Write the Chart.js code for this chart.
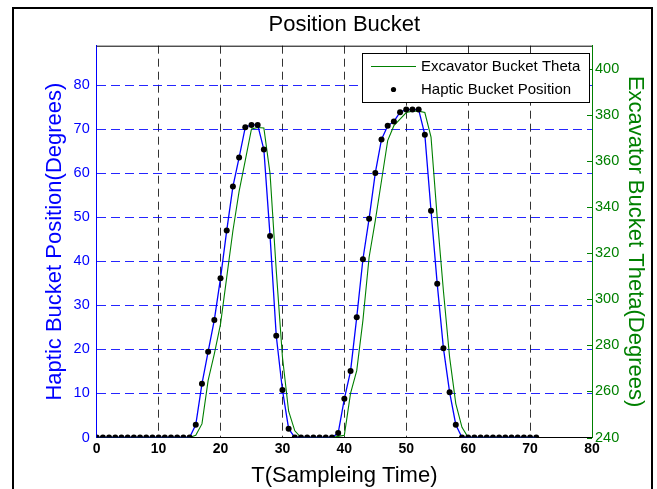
<!DOCTYPE html>
<html>
<head>
<meta charset="utf-8">
<script src="https://cdn.jsdelivr.net/npm/chart.js@4.4.1/dist/chart.umd.min.js"></script>
<style>
  html, body { margin: 0; padding: 0; background: #fff; }
  canvas { display: block; }
</style>
</head>
<body>
<canvas id="bucket-chart" width="657" height="489"></canvas>
<script>
// sampling instants
const sampleTime = [
  0, 1, 2, 3, 4, 5, 6, 7, 8, 9, 10, 11, 12, 13, 14, 15, 16, 17, 18, 19,
  20, 21, 22, 23, 24, 25, 26, 27, 28, 29, 30, 31, 32, 33, 34, 35, 36, 37, 38, 39,
  40, 41, 42, 43, 44, 45, 46, 47, 48, 49, 50, 51, 52, 53, 54, 55, 56, 57, 58, 59,
  60, 61, 62, 63, 64, 65, 66, 67, 68, 69, 70, 71
];

// haptic device bucket position (left axis, degrees)
const hapticPosition = [
  0, 0, 0, 0, 0, 0, 0, 0, 0, 0, 0, 0, 0, 0, 0, 0,
  2.9, 12.2, 19.5, 26.7, 36.2, 47.0, 57.0, 63.6, 70.5, 71.0, 71.0, 65.4, 45.8, 23.1, 10.8, 2.0,
  0, 0, 0, 0, 0, 0, 0,
  1.0, 8.8, 15.1, 27.3, 40.5, 49.7, 60.1, 67.7, 70.8, 71.8, 73.9, 74.5, 74.5, 74.5, 68.8, 51.5, 34.9, 20.3, 10.3, 2.9,
  0, 0, 0, 0, 0, 0, 0, 0, 0, 0, 0, 0, 0
];

// excavator bucket theta (right axis, degrees)
const excavatorTheta = [
  240, 240, 240, 240, 240, 240, 240, 240, 240, 240, 240, 240, 240, 240, 240, 240,
  241, 245.9, 264.8, 276.3, 289.2, 309.5, 329.7, 346.8, 360.2, 373.9, 374.5, 374.3, 354.5, 312.5, 274.9, 251.4,
  242.9, 240, 240, 240, 240, 240, 240,
  240.5, 241, 259.1, 269, 290.8, 318.2, 334.1, 351.4, 368.8, 375.3, 378.1, 381, 381.6, 381.6, 381, 370.3, 335.4, 303.7, 274.9, 254.7,
  244.4, 240, 240, 240, 240, 240, 240, 240, 240, 240, 240, 240, 240
];

const xTicks = [0, 10, 20, 30, 40, 50, 60, 70, 80];
const leftTicks = [0, 10, 20, 30, 40, 50, 60, 70, 80];
const rightTicks = [240, 260, 280, 300, 320, 340, 360, 380, 400];

const BLUE = '#0000ff';
const GREEN = '#008000';
const FONT = '"Liberation Sans", Arial, sans-serif';

const hapticPoints = sampleTime.map((t, i) => ({ x: t, y: hapticPosition[i] }));
const thetaPoints = sampleTime.map((t, i) => ({ x: t, y: excavatorTheta[i] }));

// title, box top edge, inward ticks on the right axis, legend and outer frame
const figureDecor = {
  id: 'figureDecor',
  afterDatasetsDraw(chart) {
    const { ctx, chartArea: a, scales } = chart;
    ctx.save();
    // top edge of the axes box
    ctx.strokeStyle = '#000';
    ctx.lineWidth = 1;
    ctx.beginPath();
    ctx.moveTo(a.left, a.top + 0.5);
    ctx.lineTo(a.right, a.top + 0.5);
    ctx.stroke();

    // inward tick marks on the theta axis
    ctx.strokeStyle = GREEN;
    ctx.beginPath();
    rightTicks.forEach(v => {
      const y = Math.round(scales.yTheta.getPixelForValue(v)) + 0.5;
      ctx.moveTo(a.right - 5, y);
      ctx.lineTo(a.right, y);
    });
    ctx.stroke();

    // legend box
    const lx = 362, ly = 53, lw = 227, lh = 49;
    ctx.fillStyle = '#fff';
    ctx.fillRect(lx, ly, lw, lh);
    ctx.strokeStyle = '#000';
    ctx.lineWidth = 1;
    ctx.strokeRect(lx + 0.5, ly + 0.5, lw, lh);

    ctx.strokeStyle = GREEN;
    ctx.beginPath();
    ctx.moveTo(371, 66.5);
    ctx.lineTo(416, 66.5);
    ctx.stroke();

    ctx.fillStyle = '#000';
    ctx.beginPath();
    ctx.arc(393.5, 89.5, 2.6, 0, Math.PI * 2);
    ctx.fill();

    ctx.font = '15px ' + FONT;
    ctx.textBaseline = 'middle';
    ctx.textAlign = 'left';
    ctx.fillText(chart.data.datasets[1].label, 421, 67);
    ctx.fillText(chart.data.datasets[0].label, 421, 90);
    ctx.restore();
  },
  afterDraw(chart) {
    const { ctx, chartArea: a } = chart;
    ctx.save();
    ctx.fillStyle = '#000';
    ctx.font = '22px ' + FONT;
    ctx.textAlign = 'center';
    ctx.textBaseline = 'middle';
    ctx.fillText('Position Bucket', (a.left + a.right) / 2, 25);

    ctx.strokeStyle = '#000';
    ctx.lineWidth = 2;
    ctx.strokeRect(13, 8, 639, 500);
    ctx.restore();
  }
};

new Chart(document.getElementById('bucket-chart'), {
  type: 'line',
  data: {
    datasets: [
      {
        label: 'Haptic Bucket Position',
        data: hapticPoints,
        yAxisID: 'yHaptic',
        borderColor: BLUE,
        borderWidth: 1.3,
        pointRadius: 3,
        pointBorderWidth: 0,
        pointBackgroundColor: '#000',
        tension: 0
      },
      {
        label: 'Excavator Bucket Theta',
        data: thetaPoints,
        yAxisID: 'yTheta',
        borderColor: GREEN,
        borderWidth: 1.1,
        pointRadius: 0,
        tension: 0
      }
    ]
  },
  options: {
    responsive: false,
    animation: false,
    layout: { padding: { top: 45.7, left: 0, right: 0, bottom: 0 } },
    plugins: {
      legend: { display: false },
      title: { display: false },
      tooltip: { enabled: false }
    },
    scales: {
      x: {
        type: 'linear',
        min: 0,
        max: 80,
        afterBuildTicks: s => { s.ticks = xTicks.map(v => ({ value: v })); },
        afterFit: s => { s.height = 51.5; },
        ticks: {
          color: '#000',
          padding: 3,
          maxRotation: 0,
          font: { family: FONT, size: 14, weight: 'bold' }
        },
        grid: {
          drawTicks: false,
          color: c => (c.tick && (c.tick.value === 0 || c.tick.value === 80)) ? 'rgba(0,0,0,0)' : '#333',
          lineWidth: 1
        },
        border: { color: '#000', width: 1, dash: [8, 5] },
        title: {
          display: true,
          text: 'T(Sampleing Time)',
          color: '#000',
          font: { family: FONT, size: 22 },
          padding: { top: 3, bottom: 0 }
        }
      },
      yHaptic: {
        position: 'left',
        min: 0,
        max: 89,
        afterBuildTicks: s => { s.ticks = leftTicks.map(v => ({ value: v })); },
        afterFit: s => { s.width = 96.7; },
        ticks: {
          color: BLUE,
          padding: 7,
          font: { family: FONT, size: 14.5 }
        },
        grid: {
          drawTicks: false,
          color: c => (c.tick && c.tick.value === 0) ? 'rgba(0,0,0,0)' : 'rgba(0,0,255,0.85)',
          lineWidth: 1
        },
        border: { color: BLUE, width: 1, dash: [9, 5] },
        title: {
          display: true,
          text: 'Haptic Bucket Position(Degrees)',
          color: BLUE,
          font: { family: FONT, size: 22 },
          padding: { top: 42, bottom: 0 }
        }
      },
      yTheta: {
        position: 'right',
        min: 240,
        max: 410,
        afterBuildTicks: s => { s.ticks = rightTicks.map(v => ({ value: v })); },
        afterFit: s => { s.width = 65; },
        ticks: {
          color: GREEN,
          padding: 3,
          font: { family: FONT, size: 14.5 }
        },
        grid: { drawOnChartArea: false, drawTicks: false },
        border: { color: GREEN, width: 1 },
        title: {
          display: true,
          text: 'Excavator Bucket Theta(Degrees)',
          color: GREEN,
          font: { family: FONT, size: 22 },
          padding: { top: 9, bottom: 0 }
        }
      }
    }
  },
  plugins: [figureDecor]
});
</script>
</body>
</html>
